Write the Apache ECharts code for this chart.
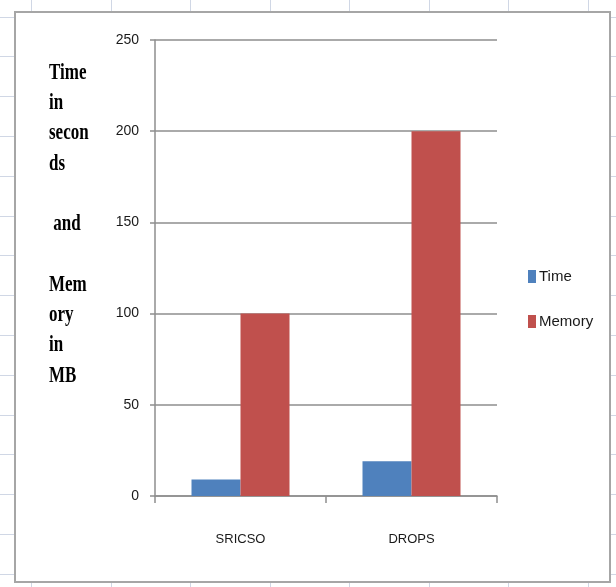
<!DOCTYPE html>
<html>
<head>
<meta charset="utf-8">
<script src="https://cdn.jsdelivr.net/npm/echarts@6/dist/echarts.min.js"></script>
<style>
  html, body { margin: 0; padding: 0; background: #ffffff; }
  #chart { width: 616px; height: 587px; }
</style>
</head>
<body>
<div id="chart"></div>
<script>
// Chart data
var categories = ['SRICSO', 'DROPS'];
var timeSeconds = [9, 19];
var memoryMB = [100, 200];
var seriesNames = ['Time', 'Memory'];
var yTitleLines = ['Time', 'in', 'secon', 'ds', '', ' and', '', 'Mem', 'ory', 'in', 'MB'];

var W = 616, H = 587;
var sans = '"Liberation Sans", Arial, sans-serif';

// Worksheet cell lines behind the chart frame
var sheetLines = [];
for (var gx = 31; gx < W; gx += 79.5) {
  sheetLines.push({ type: 'line', silent: true, z: -10,
    shape: { x1: Math.round(gx) + 0.5, y1: 0, x2: Math.round(gx) + 0.5, y2: H },
    style: { stroke: '#d0d7e5', lineWidth: 1 } });
}
for (var gy = 16.5; gy < H; gy += 39.8) {
  sheetLines.push({ type: 'line', silent: true, z: -10,
    shape: { x1: 0, y1: Math.round(gy) + 0.5, x2: W, y2: Math.round(gy) + 0.5 },
    style: { stroke: '#d0d7e5', lineWidth: 1 } });
}

var chart = echarts.init(document.getElementById('chart'), null, { renderer: 'canvas' });
chart.setOption({
  animation: false,
  backgroundColor: '#ffffff',
  color: ['#4f81bd', '#c0504d'],
  graphic: sheetLines.concat([
    { type: 'rect', silent: true, z: -5,
      shape: { x: 15, y: 12, width: 595, height: 570 },
      style: { fill: '#ffffff', stroke: '#a6a6a6', lineWidth: 2 } },
    { type: 'text', silent: true, z: 10,
      x: 49, y: 58, scaleY: 1.3,
      style: {
        x: 0, y: 0,
        text: yTitleLines.join('\n'),
        font: 'bold 17px "Liberation Serif", "Times New Roman", serif',
        lineHeight: 23.3,
        fill: '#000000',
        verticalAlign: 'top',
        align: 'left'
      } }
  ]),
  grid: { left: 155, right: 119, top: 40, bottom: 91, containLabel: false },
  legend: {
    orient: 'vertical',
    left: 523, top: 264,
    icon: 'rect',
    itemWidth: 8, itemHeight: 13,
    itemGap: 30,
    textStyle: { fontFamily: sans, fontSize: 15, color: '#1a1a1a', padding: [0, 0, 0, -2] },
    data: seriesNames
  },
  xAxis: {
    type: 'category',
    data: categories,
    axisLine: { lineStyle: { color: '#8e8e8e', width: 1.5 } },
    axisTick: { show: true, length: 7, inside: false, lineStyle: { color: '#8e8e8e', width: 1.5 } },
    axisLabel: { margin: 37, fontFamily: sans, fontSize: 13, color: '#1a1a1a' }
  },
  yAxis: {
    type: 'value',
    min: 0, max: 250, interval: 50,
    axisLine: { show: true, lineStyle: { color: '#8e8e8e', width: 1.5 } },
    axisTick: { show: true, length: 5, lineStyle: { color: '#8e8e8e', width: 1.5 } },
    axisLabel: { margin: 16, fontFamily: sans, fontSize: 14, color: '#1a1a1a' },
    splitLine: { show: true, lineStyle: { color: '#8e8e8e', width: 1.5 } }
  },
  series: [
    { name: seriesNames[0], type: 'bar', data: timeSeconds, barWidth: 49, barGap: '0%' },
    { name: seriesNames[1], type: 'bar', data: memoryMB, barWidth: 49, barGap: '0%' }
  ]
});
</script>
</body>
</html>
